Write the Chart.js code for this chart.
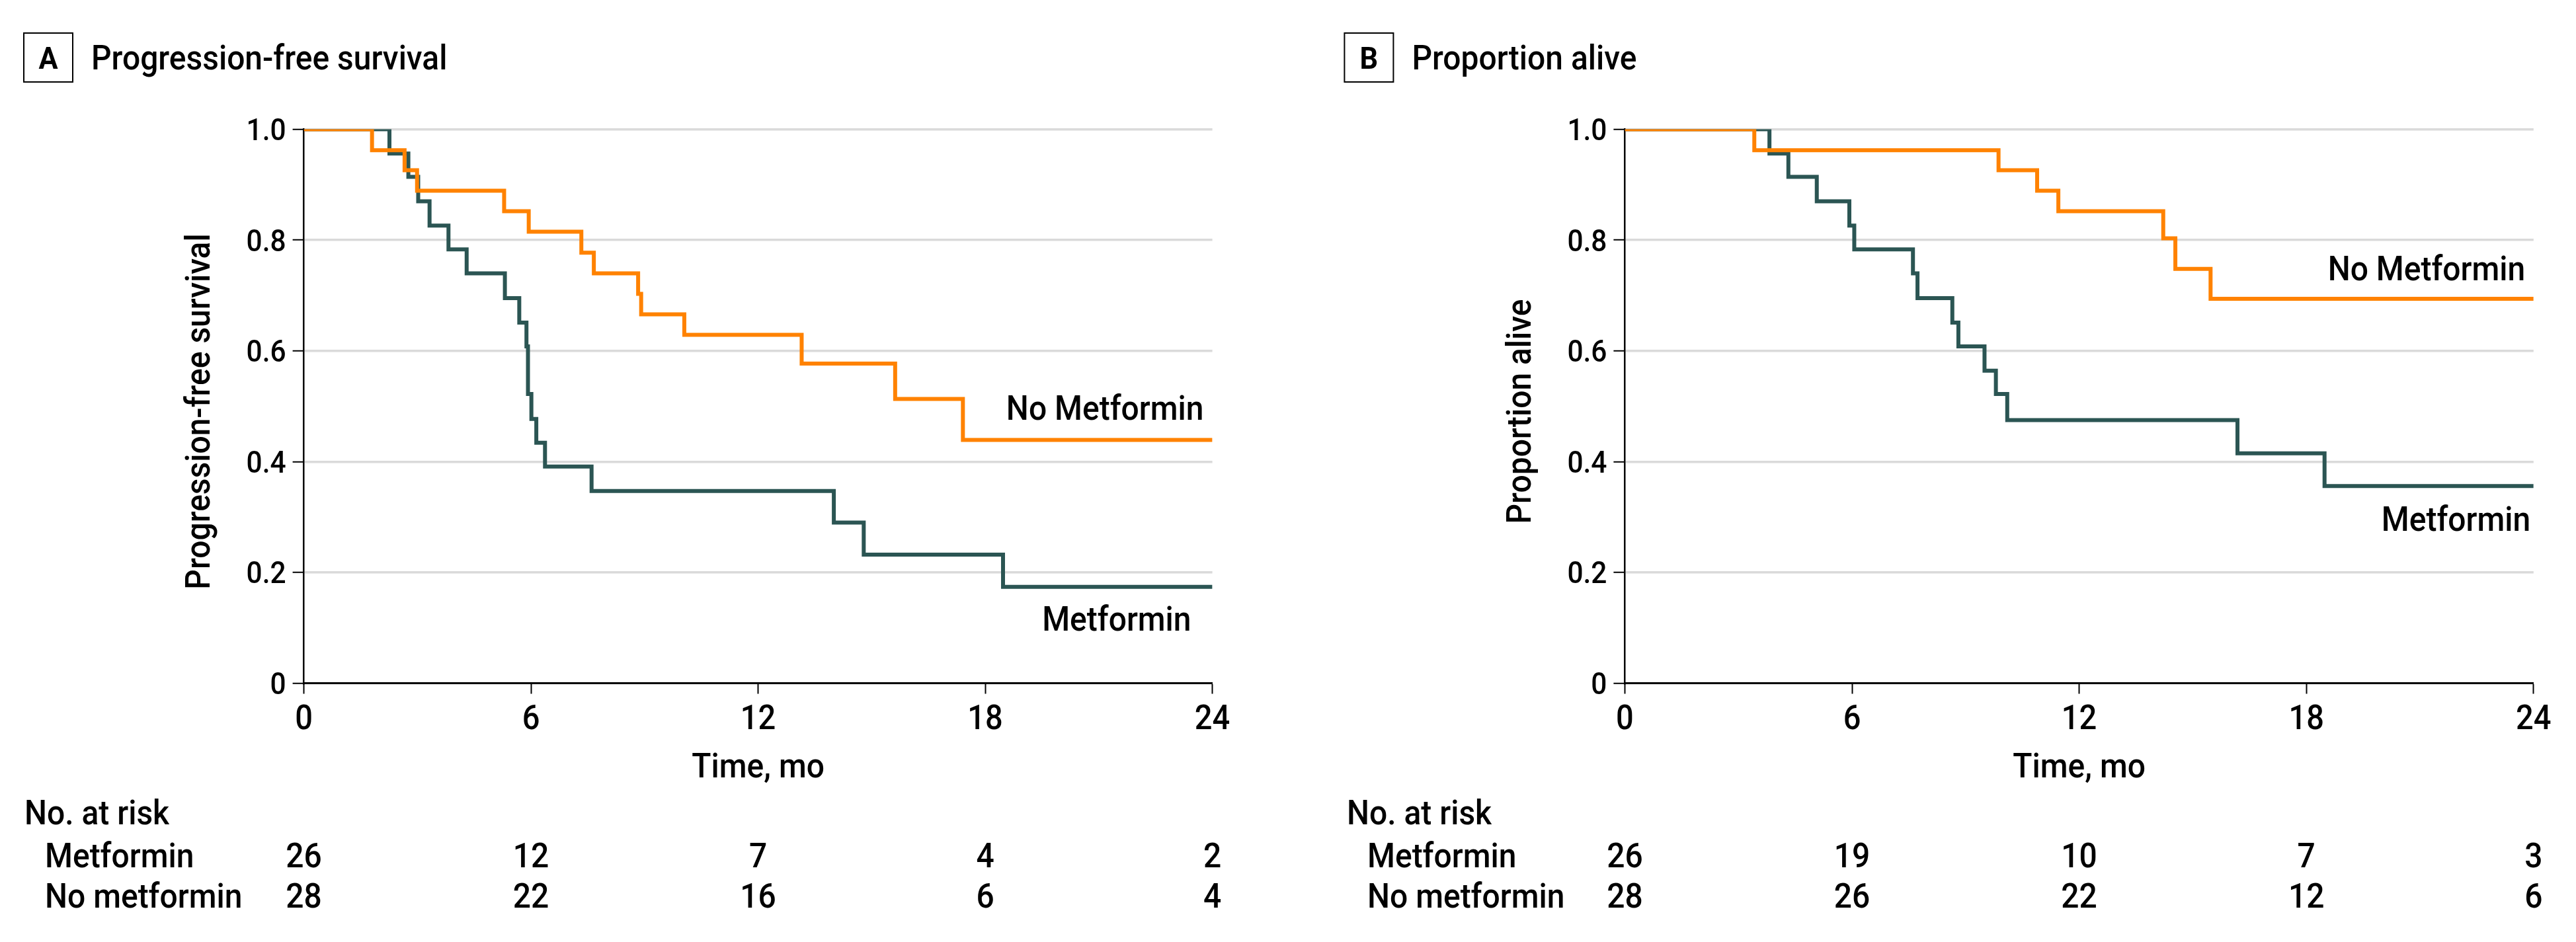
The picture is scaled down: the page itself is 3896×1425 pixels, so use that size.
<!DOCTYPE html>
<html>
<head>
<meta charset="utf-8">
<title>Metformin survival curves</title>
<script src="https://cdn.jsdelivr.net/npm/chart.js@4.4.1/dist/chart.umd.min.js"></script>
<style>
  html, body { margin: 0; padding: 0; background: #fff; }
  #wrap { position: relative; width: 3896px; height: 1425px; overflow: hidden; }
  .panel { position: absolute; top: 0; width: 1948px; height: 1425px; }
</style>
</head>
<body>
<div id="wrap">
  <div class="panel" style="left:0"><canvas id="chart-pfs" width="1948" height="1425"></canvas></div>
  <div class="panel" style="left:1948px"><canvas id="chart-os" width="1948" height="1425"></canvas></div>
</div>
<script>
// ---- data ----
const monthTicks = [0, 6, 12, 18, 24];
const survTicks  = [0, 0.2, 0.4, 0.6, 0.8, 1.0];
const riskTimes  = [0, 6, 12, 18, 24];

// A: progression-free survival
const pfsMetTime   = [0, 2.26, 2.76, 3.02, 3.32, 3.82, 4.30, 5.31, 5.69, 5.88, 5.92, 6.01, 6.14, 6.37, 7.60, 14.00, 14.79, 18.47, 24];
const pfsMetSurv   = [1, 0.956, 0.914, 0.870, 0.826, 0.783, 0.740, 0.695, 0.651, 0.608, 0.522, 0.477, 0.434, 0.391, 0.347, 0.290, 0.232, 0.174, 0.174];
const pfsNoMetTime = [0, 1.80, 2.66, 2.99, 5.29, 5.94, 7.33, 7.66, 8.83, 8.91, 10.05, 13.15, 15.62, 17.41, 24];
const pfsNoMetSurv = [1, 0.962, 0.926, 0.889, 0.852, 0.815, 0.777, 0.740, 0.703, 0.666, 0.629, 0.577, 0.513, 0.439, 0.439];
const pfsRiskMet   = [26, 12, 7, 4, 2];
const pfsRiskNoMet = [28, 22, 16, 6, 4];

// B: proportion alive
const osMetTime   = [0, 3.82, 4.32, 5.07, 5.93, 6.06, 7.61, 7.73, 8.65, 8.81, 9.50, 9.80, 10.10, 16.18, 18.48, 24];
const osMetSurv   = [1, 0.956, 0.914, 0.870, 0.826, 0.783, 0.740, 0.695, 0.651, 0.608, 0.564, 0.522, 0.475, 0.415, 0.356, 0.356];
const osNoMetTime = [0, 3.42, 9.87, 10.89, 11.45, 14.22, 14.54, 15.47, 24];
const osNoMetSurv = [1, 0.962, 0.926, 0.889, 0.852, 0.803, 0.748, 0.694, 0.694];
const osRiskMet   = [26, 19, 10, 7, 3];
const osRiskNoMet = [28, 26, 22, 12, 6];

// ---- styling ----
const FONT   = 'Roboto, Lato, "Liberation Sans", sans-serif';
const WEIGHT = '500';
const ORANGE = '#ff8200';
const TEAL   = '#2b5553';

// the journal face is narrower than anything installed, so squeeze text a bit.
// widths (px) the reference prints a few strings at, 52px type
const fitStrings = [
  ['Progression-free survival', 552], ['Proportion alive', 348], ['No Metformin', 285],
  ['Metformin', 212], ['Time, mo', 201], ['No. at risk', 224],
];
let textScale = null;
function squeeze(ctx) {
  if (textScale === null) {
    ctx.save();
    ctx.font = WEIGHT + ' 52px ' + FONT;
    let want = 0, got = 0;
    fitStrings.forEach(([s, w]) => { want += w; got += ctx.measureText(s).width; });
    textScale = want / got;
    ctx.restore();
  }
  return textScale;
}

function put(ctx, str, x, y, size, align, weight, rotate) {
  const sx = squeeze(ctx);
  ctx.save();
  ctx.translate(x, y);
  if (rotate) ctx.rotate(-Math.PI / 2);
  ctx.scale(sx, 1);
  ctx.font = (weight || WEIGHT) + ' ' + size + 'px ' + FONT;
  ctx.textAlign = align || 'left';
  ctx.textBaseline = 'alphabetic';
  ctx.fillStyle = '#000';
  ctx.fillText(str, 0, 0);
  ctx.restore();
}

function capHeight(ctx, size) {
  ctx.save();
  ctx.font = WEIGHT + ' ' + size + 'px ' + FONT;
  const h = ctx.measureText('0').actualBoundingBoxAscent;
  ctx.restore();
  return h;
}

// titles, tick labels, curve labels and the at-risk table
const annotations = {
  id: 'annotations',
  afterDraw(chart, args, o) {
    const ctx = chart.ctx;
    const xs = chart.scales.x, ys = chart.scales.y;
    const area = chart.chartArea;

    // panel letter + title
    ctx.save();
    ctx.strokeStyle = '#000';
    ctx.lineWidth = 2;
    ctx.strokeRect(o.boxLeft, 50, 74, 74);
    ctx.restore();
    put(ctx, o.letter, o.boxLeft + 37, 104, 47, 'center', 'bold');
    put(ctx, o.title, o.boxLeft + 102, 105, 52);

    // y tick labels
    const yc = capHeight(ctx, 46);
    ys.ticks.forEach(t => {
      const lbl = t.value === 0 ? '0' : t.value.toFixed(1);
      put(ctx, lbl, area.left - 27, ys.getPixelForValue(t.value) + yc / 2, 46, 'right');
    });
    // x tick labels
    xs.ticks.forEach(t => {
      put(ctx, String(t.value), xs.getPixelForValue(t.value), area.bottom + 69.5, 51, 'center');
    });

    // axis titles
    put(ctx, o.yTitle, o.yTitleX, (area.top + area.bottom) / 2 + 8, 52, 'center', null, true);
    put(ctx, 'Time, mo', (area.left + area.right) / 2, area.bottom + 142.5, 52, 'center');

    // curve labels
    o.curveLabels.forEach(l => {
      put(ctx, l.text, xs.getPixelForValue(l.t), ys.getPixelForValue(l.s), 52, 'right');
    });

    // number at risk
    put(ctx, 'No. at risk', o.riskHeadX, area.bottom + 213.5, 52);
    put(ctx, 'Metformin', o.riskHeadX + 31, area.bottom + 278.5, 52);
    put(ctx, 'No metformin', o.riskHeadX + 31, area.bottom + 339.5, 52);
    riskTimes.forEach((t, i) => {
      const px = xs.getPixelForValue(t);
      put(ctx, String(o.riskMet[i]), px, area.bottom + 278.5, 52, 'center');
      put(ctx, String(o.riskNoMet[i]), px, area.bottom + 339.5, 52, 'center');
    });
  }
};

function curve(times, surv, color) {
  return {
    data: times.map((t, i) => ({ x: t, y: surv[i] })),
    borderColor: color,
    borderWidth: 6,
    stepped: true,
    fill: false,
    pointRadius: 0,
    borderJoinStyle: 'miter',
    borderCapStyle: 'butt',
  };
}

function makeChart(canvasId, cfg) {
  return new Chart(document.getElementById(canvasId), {
    type: 'line',
    data: {
      datasets: [
        curve(cfg.noMetTime, cfg.noMetSurv, ORANGE),   // index 0 is painted on top
        curve(cfg.metTime, cfg.metSurv, TEAL),
      ],
    },
    options: {
      responsive: false,
      animation: false,
      devicePixelRatio: 1,
      layout: { padding: { left: 0, top: 195.5, right: 1948 - cfg.plotRight, bottom: 1425 - 1033.5 - 100 } },
      plugins: { legend: { display: false }, tooltip: { enabled: false }, annotations: cfg },
      scales: {
        x: {
          type: 'linear', min: 0, max: 24,
          afterBuildTicks: s => { s.ticks = monthTicks.map(v => ({ value: v })); },
          afterFit: s => { s.height = 100; },
          ticks: { display: false },
          grid: { drawOnChartArea: false, drawTicks: true, tickLength: 16, tickColor: '#000', tickWidth: 2, color: '#000' },
          border: { display: true, color: '#000', width: 3 },
        },
        y: {
          type: 'linear', min: 0, max: 1,
          afterBuildTicks: s => { s.ticks = survTicks.map(v => ({ value: v })); },
          afterFit: s => { s.width = cfg.plotLeft; },
          ticks: { display: false },
          grid: {
            color: c => (c.tick && c.tick.value === 0 ? 'rgba(0,0,0,0)' : '#dadada'),
            lineWidth: 3.5,
            drawTicks: true, tickLength: 17, tickColor: '#000', tickWidth: 2,
          },
          border: { display: true, color: '#000', width: 2.5 },
        },
      },
    },
    plugins: [annotations],
  });
}

makeChart('chart-pfs', {
  metTime: pfsMetTime, metSurv: pfsMetSurv, noMetTime: pfsNoMetTime, noMetSurv: pfsNoMetSurv,
  riskMet: pfsRiskMet, riskNoMet: pfsRiskNoMet,
  plotLeft: 459.6, plotRight: 1833.6,
  letter: 'A', title: 'Progression-free survival', boxLeft: 36,
  yTitle: 'Progression-free survival', yTitleX: 317,
  riskHeadX: 37,
  curveLabels: [
    { text: 'No Metformin', t: 23.77, s: 0.4755 },
    { text: 'Metformin', t: 23.44, s: 0.0949 },
  ],
});

makeChart('chart-os', {
  metTime: osMetTime, metSurv: osMetSurv, noMetTime: osNoMetTime, noMetSurv: osNoMetSurv,
  riskMet: osRiskMet, riskNoMet: osRiskNoMet,
  plotLeft: 509.4, plotRight: 1883.8,
  letter: 'B', title: 'Proportion alive', boxLeft: 85.4,
  yTitle: 'Proportion alive', yTitleX: 367,
  riskHeadX: 89,
  curveLabels: [
    { text: 'No Metformin', t: 23.78, s: 0.7273 },
    { text: 'Metformin', t: 23.92, s: 0.275 },
  ],
});
</script>
</body>
</html>
